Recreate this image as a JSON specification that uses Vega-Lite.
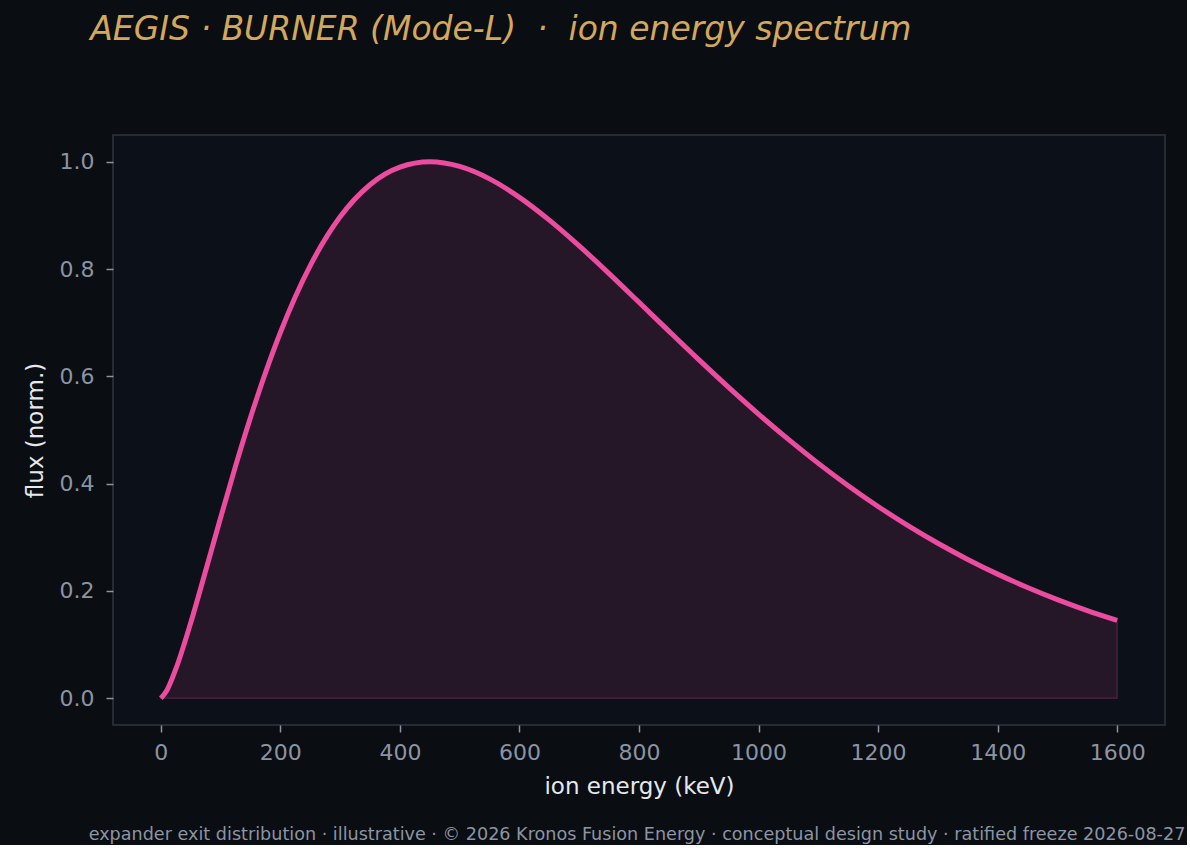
{
  "$schema": "https://vega.github.io/schema/vega-lite/v6.json",
  "description": "Ion energy spectrum at the expander exit",
  "background": "#0a0d12",
  "padding": {"left": 23, "top": 14, "right": 0, "bottom": 0},
  "title": {
    "text": "AEGIS · BURNER (Mode-L)\u00a0 ·\u00a0 ion energy spectrum",
    "anchor": "start",
    "frame": "bounds",
    "font": "DejaVu Sans",
    "fontStyle": "italic",
    "fontWeight": "normal",
    "fontSize": 33,
    "color": "#d4a85a",
    "offset": 87,
    "dx": 67
  },
  "spacing": 0,
  "vconcat": [
    {
      "width": 1052,
      "height": 590,
      "title": {
        "text": "expander exit distribution · illustrative · © 2026 Kronos Fusion Energy · conceptual design study · ratified freeze 2026-08-27",
        "orient": "bottom",
        "anchor": "middle",
        "font": "DejaVu Sans",
        "fontWeight": "normal",
        "fontSize": 17.6,
        "color": "#8b95a3",
        "offset": 28,
        "dx": -2
      },
      "data": {
        "values": [
          {"E": 0, "flux": 0},
          {"E": 10, "flux": 0.0144},
          {"E": 25, "flux": 0.054},
          {"E": 50, "flux": 0.1405},
          {"E": 75, "flux": 0.2375},
          {"E": 100, "flux": 0.3364},
          {"E": 125, "flux": 0.4326},
          {"E": 150, "flux": 0.5232},
          {"E": 175, "flux": 0.6065},
          {"E": 200, "flux": 0.6818},
          {"E": 250, "flux": 0.8065},
          {"E": 300, "flux": 0.8974},
          {"E": 350, "flux": 0.9573},
          {"E": 400, "flux": 0.99},
          {"E": 450, "flux": 1.0},
          {"E": 500, "flux": 0.9914},
          {"E": 550, "flux": 0.9682},
          {"E": 600, "flux": 0.9338},
          {"E": 650, "flux": 0.8913},
          {"E": 700, "flux": 0.8432},
          {"E": 750, "flux": 0.7916},
          {"E": 800, "flux": 0.7381},
          {"E": 850, "flux": 0.6843},
          {"E": 900, "flux": 0.6311},
          {"E": 950, "flux": 0.5794},
          {"E": 1000, "flux": 0.5296},
          {"E": 1050, "flux": 0.4824},
          {"E": 1100, "flux": 0.4378},
          {"E": 1150, "flux": 0.3962},
          {"E": 1200, "flux": 0.3574},
          {"E": 1250, "flux": 0.3217},
          {"E": 1300, "flux": 0.2888},
          {"E": 1350, "flux": 0.2587},
          {"E": 1400, "flux": 0.2313},
          {"E": 1450, "flux": 0.2064},
          {"E": 1500, "flux": 0.1838},
          {"E": 1550, "flux": 0.1634},
          {"E": 1600, "flux": 0.1451}
        ]
      },
      "encoding": {
        "x": {
          "field": "E",
          "type": "quantitative",
          "title": "ion energy (keV)",
          "scale": {"domain": [-80, 1680], "nice": false, "zero": false},
          "axis": {"values": [0, 200, 400, 600, 800, 1000, 1200, 1400, 1600], "format": "d", "labelPadding": 10, "titlePadding": 12}
        },
        "y": {
          "field": "flux",
          "type": "quantitative",
          "title": "flux (norm.)",
          "scale": {"domain": [-0.05, 1.05], "nice": false, "zero": false},
          "axis": {"values": [0, 0.2, 0.4, 0.6, 0.8, 1.0], "format": ".1f", "labelPadding": 12, "titlePadding": 12}
        }
      },
      "layer": [
        {
          "mark": {
            "type": "area",
            "interpolate": "monotone",
            "color": "#e84a9c",
            "fillOpacity": 0.12,
            "stroke": "#e84a9c",
            "strokeOpacity": 0.22,
            "strokeWidth": 1.5
          }
        },
        {
          "mark": {
            "type": "line",
            "interpolate": "monotone",
            "color": "#ec4c9f",
            "strokeWidth": 5
          }
        }
      ]
    }
  ],
  "config": {
    "view": {"stroke": "#30363e", "strokeWidth": 1.5, "fill": "#0c1018"},
    "axis": {
      "grid": false,
      "domain": false,
      "tickColor": "#8a94a3",
      "tickSize": 7,
      "tickWidth": 1.5,
      "labelColor": "#8a94a3",
      "labelFont": "DejaVu Sans",
      "labelFontSize": 22,
      "titleColor": "#e6e8ec",
      "titleFont": "DejaVu Sans",
      "titleFontSize": 23,
      "titleFontWeight": "normal"
    }
  }
}
